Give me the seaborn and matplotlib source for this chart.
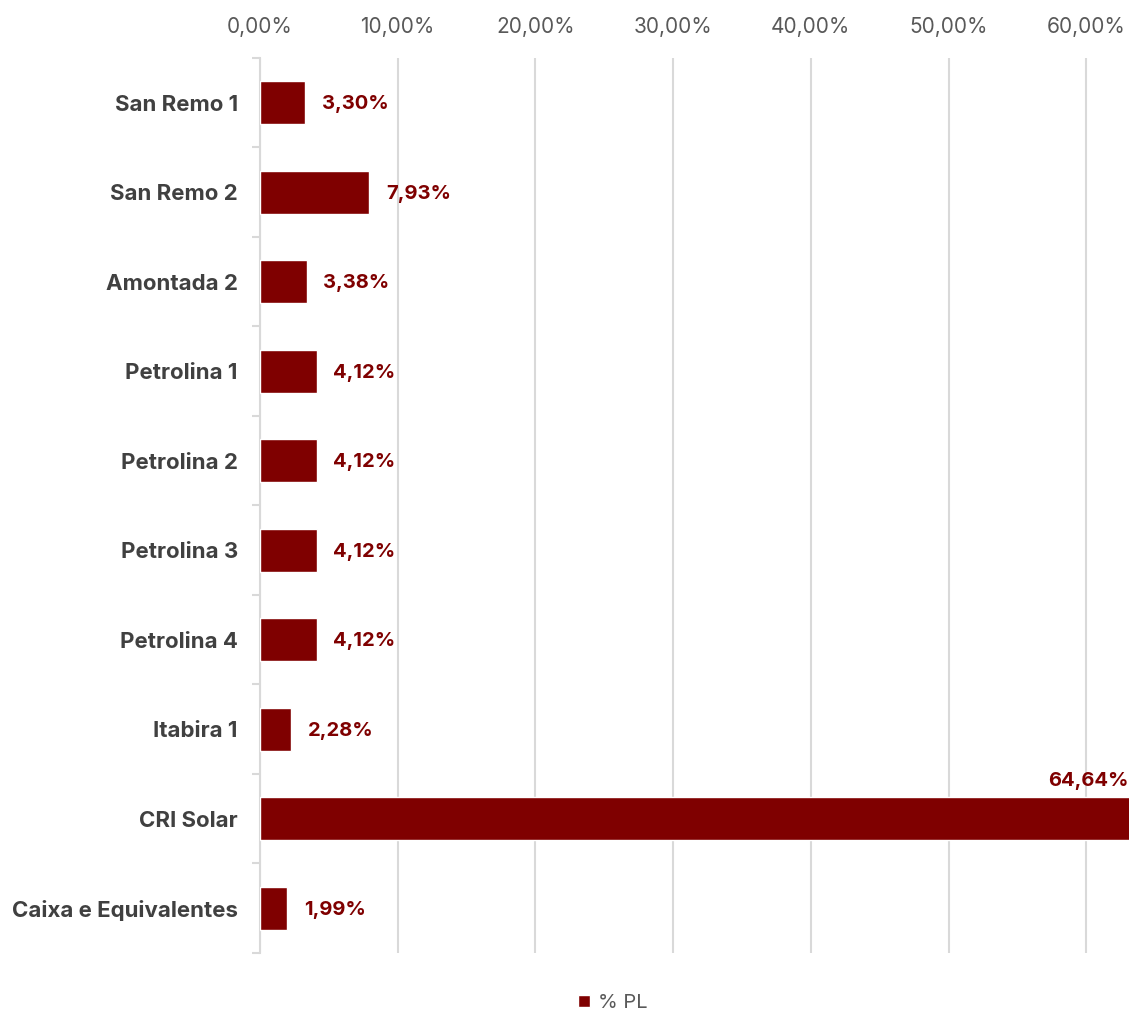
import matplotlib
matplotlib.use("Agg")
import matplotlib.pyplot as plt
from matplotlib.ticker import FuncFormatter, FixedLocator
import seaborn as sns
import pandas as pd

categories = ["San Remo 1", "San Remo 2", "Amontada 2", "Petrolina 1", "Petrolina 2",
              "Petrolina 3", "Petrolina 4", "Itabira 1", "CRI Solar", "Caixa e Equivalentes"]
pct_pl = [3.30, 7.93, 3.38, 4.12, 4.12, 4.12, 4.12, 2.28, 64.64, 1.99]
x_ticks = [0, 10, 20, 30, 40, 50, 60]

BAR = "#7F0000"
GRID = "#D9D9D9"
TXT = "#404040"

sns.set_theme(style="white")
plt.rcParams["font.family"] = ["Inter", "DejaVu Sans"]

df = pd.DataFrame({"Ativo": categories, "% PL": pct_pl})

fig = plt.figure(figsize=(11.29, 10.15), dpi=100)
ax = fig.add_axes([260 / 1129, 1 - 953 / 1015, 1 - 260 / 1129, (953 - 58) / 1015])

sns.barplot(data=df, y="Ativo", x="% PL", orient="h", color=BAR, width=0.48,
            saturation=1, ax=ax, label="% PL", zorder=3)

ax.set_xlim(0, 63.1)
ax.set_ylim(len(categories) - 0.5, -0.5)
ax.xaxis.set_major_locator(FixedLocator(x_ticks))
ax.xaxis.set_major_formatter(FuncFormatter(lambda v, p: f"{v:.2f}%".replace(".", ",")))
ax.xaxis.tick_top()
ax.tick_params(axis="x", length=0, pad=15, labelsize=15, labelcolor="#595959")
ax.grid(axis="x", color=GRID, linewidth=1.5, zorder=0)
ax.set_axisbelow(True)

# category-boundary ticks on the left spine
ax.set_yticks(range(len(categories)))
ax.set_yticklabels(categories, fontsize=16, fontweight="bold", color=TXT)
ax.set_yticks([i - 0.5 for i in range(len(categories) + 1)], minor=True)
ax.tick_params(axis="y", which="major", length=0, pad=16)
ax.tick_params(axis="y", which="minor", length=6, width=1.5, color=GRID, direction="out")
ax.yaxis.set_tick_params(which="minor", left=True)

for s in ["top", "right", "bottom"]:
    ax.spines[s].set_visible(False)
ax.spines["left"].set_color(GRID)
ax.spines["left"].set_linewidth(1.5)
ax.set_xlabel("")
ax.set_ylabel("")

# value labels
for i, v in enumerate(pct_pl):
    txt = f"{v:.2f}%".replace(".", ",")
    if v > ax.get_xlim()[1]:
        ax.annotate(txt, xy=(ax.get_xlim()[1], i - 0.24), xytext=(0, 5),
                    textcoords="offset points", ha="right", va="bottom",
                    fontsize=14.5, fontweight="bold", color=BAR, annotation_clip=False)
    else:
        ax.annotate(txt, xy=(v, i), xytext=(12, -1), textcoords="offset points",
                    ha="left", va="center", fontsize=14.5, fontweight="bold", color=BAR)

leg = fig.legend(handles=ax.patches[:1], labels=["% PL"], loc="center",
                 bbox_to_anchor=(613 / 1129, 1 - 1003 / 1015), frameon=False,
                 fontsize=14.5, handlelength=0.6, handleheight=0.6, handletextpad=0.4,
                 labelcolor="#595959")
if ax.get_legend() is not None:
    ax.get_legend().remove()

fig.savefig("out.png", dpi=100)
